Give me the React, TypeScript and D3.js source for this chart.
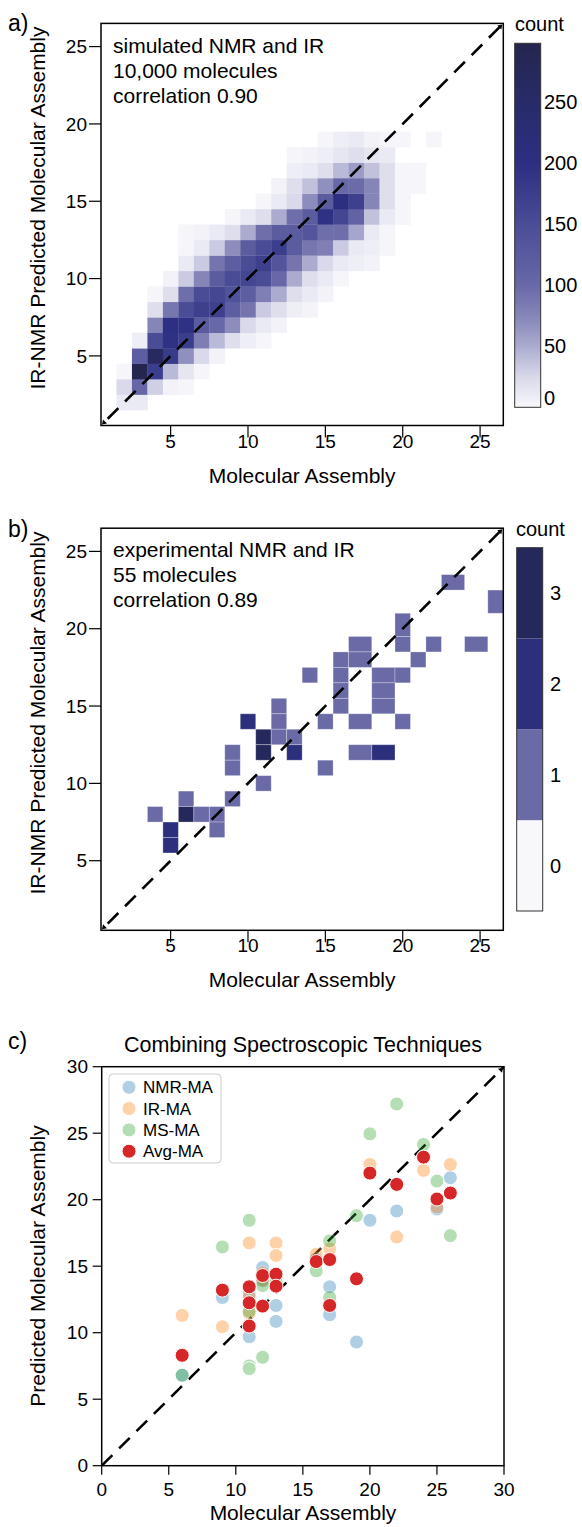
import React from 'react';
import * as d3 from 'd3';

const FONT = '"Liberation Sans", Arial, Helvetica, sans-serif';

// ---------- Panel a: simulated 2D histogram (counts), rows by predicted MA (y), columns x = 1..22 ----------
const heatA_y = [2, 3, 4, 5, 6, 7, 8, 9, 10, 11, 12, 13, 14, 15, 16, 17, 18, 19];
const heatA_xFirst = 1;
const heatA_counts: number[][] = [
  [0, 11, 11, 0, 0, 0, 0, 0, 0, 0, 0, 0, 0, 0, 0, 0, 0, 0, 0, 0, 0, 0],
  [0, 24, 102, 30, 5, 2, 0, 0, 0, 0, 0, 0, 0, 0, 0, 0, 0, 0, 0, 0, 0, 0],
  [0, 2, 298, 175, 42, 14, 2, 0, 0, 0, 0, 0, 0, 0, 0, 0, 0, 0, 0, 0, 0, 0],
  [0, 0, 118, 265, 180, 68, 24, 5, 0, 0, 0, 0, 0, 0, 0, 0, 0, 0, 0, 0, 0, 0],
  [0, 0, 8, 150, 195, 175, 81, 42, 20, 8, 2, 0, 0, 0, 0, 0, 0, 0, 0, 0, 0, 0],
  [0, 0, 0, 75, 200, 195, 122, 100, 70, 24, 11, 5, 0, 0, 0, 0, 0, 0, 0, 0, 0, 0],
  [0, 0, 0, 20, 87, 150, 170, 170, 118, 90, 33, 20, 8, 4, 0, 0, 0, 0, 0, 0, 0, 0],
  [0, 0, 0, 2, 20, 95, 150, 158, 140, 118, 80, 50, 20, 11, 5, 0, 0, 0, 0, 0, 0, 0],
  [0, 0, 0, 0, 5, 33, 75, 122, 150, 160, 150, 100, 50, 20, 11, 2, 0, 0, 0, 0, 0, 0],
  [0, 0, 0, 0, 0, 11, 33, 90, 118, 150, 170, 135, 90, 50, 24, 11, 8, 5, 0, 0, 0, 0],
  [0, 0, 0, 0, 0, 2, 11, 33, 70, 122, 150, 175, 122, 87, 80, 33, 11, 8, 2, 0, 0, 0],
  [0, 0, 0, 0, 0, 2, 5, 11, 20, 50, 95, 122, 122, 135, 95, 95, 53, 11, 2, 0, 0, 0],
  [0, 0, 0, 0, 0, 0, 0, 0, 2, 11, 20, 50, 95, 122, 195, 160, 110, 38, 11, 2, 0, 0],
  [0, 0, 0, 0, 0, 0, 0, 0, 0, 0, 2, 11, 24, 70, 122, 205, 170, 75, 20, 2, 0, 0],
  [0, 0, 0, 0, 0, 0, 0, 0, 0, 0, 0, 5, 20, 38, 68, 100, 97, 75, 20, 2, 2, 0],
  [0, 0, 0, 0, 0, 0, 0, 0, 0, 0, 0, 0, 8, 11, 20, 42, 60, 38, 20, 2, 2, 0],
  [0, 0, 0, 0, 0, 0, 0, 0, 0, 0, 0, 0, 2, 5, 8, 14, 20, 14, 11, 0, 0, 0],
  [0, 0, 0, 0, 0, 0, 0, 0, 0, 0, 0, 0, 0, 0, 2, 8, 11, 5, 2, 2, 0, 2],
];
const heatA_max = 298;
const cbA_ticks = [0, 50, 100, 150, 200, 250];
const cmapA_counts = [0, 25, 50, 75, 100, 150, 200, 250, 298];
const cmapA_colors = ['#f8f8fb', '#d8d8ea', '#ababd0', '#8585b8', '#6868a8', '#4a4c96', '#2c2f82', '#282b68', '#24264f'];
const textA = ['simulated NMR and IR', '10,000 molecules', 'correlation 0.90'];

// ---------- Panel b: experimental 2D histogram ----------
const heatB_x = [4, 5, 5, 6, 6, 7, 8, 8, 9, 9, 9, 10, 11, 11, 11, 12, 12, 12, 13, 13, 14, 15, 15, 16, 16, 16, 16, 17, 17, 17, 17, 19, 20, 19, 19, 19, 20, 20, 20, 21, 22, 23, 25, 26];
const heatB_y = [8, 7, 6, 9, 8, 8, 8, 7, 9, 12, 11, 14, 10, 13, 12, 15, 14, 13, 13, 12, 17, 14, 11, 18, 17, 16, 15, 19, 18, 14, 12, 17, 17, 16, 15, 12, 20, 19, 14, 18, 19, 23, 19, 22];
const heatB_c = [1, 2, 2, 1, 3, 1, 1, 1, 1, 1, 1, 2, 1, 3, 3, 1, 1, 1, 1, 2, 1, 1, 1, 1, 1, 1, 1, 1, 1, 1, 1, 1, 1, 1, 1, 2, 1, 1, 1, 1, 1, 1, 1, 1];
const cbB_levels = [0, 1, 2, 3];
const cbB_colors = ['#f8f8fa', '#6a6aa6', '#2c307c', '#25285a'];
const textB = ['experimental NMR and IR', '55 molecules', 'correlation 0.89'];

// ---------- Panel c: scatter ----------
const nmrX = [6, 9, 11, 11, 11, 12, 12, 13, 13, 16, 17, 17, 19, 20, 22, 24, 25, 26];
const nmrY = [6.8, 12.65, 9.7, 12.9, 12.2, 14.9, 13.9, 12.05, 10.85, 15.5, 13.45, 11.35, 9.3, 18.45, 19.15, 23.25, 19.3, 21.65];
const irX = [6, 9, 11, 11, 11, 12, 12, 13, 13, 16, 17, 17, 19, 20, 22, 24, 25, 26];
const irY = [11.3, 10.45, 16.75, 11.45, 12.7, 14.5, 13.95, 16.75, 15.8, 15.9, 16.3, 12.15, 14.05, 22.65, 17.2, 22.2, 19.45, 22.65];
const msX = [6, 9, 11, 11, 11, 11, 12, 12, 13, 13, 16, 17, 17, 19, 20, 22, 24, 25, 26];
const msY = [6.8, 16.45, 18.45, 7.5, 7.3, 11.6, 13.55, 8.15, 14.4, 13.85, 14.65, 16.9, 12.65, 18.8, 24.95, 27.2, 24.15, 21.4, 17.3];
const avgX = [6, 9, 11, 11, 11, 12, 12, 13, 13, 16, 17, 17, 19, 20, 22, 24, 25, 26];
const avgY = [8.3, 13.2, 13.45, 12.25, 10.5, 14.3, 12.0, 14.4, 13.5, 15.35, 15.5, 12.05, 14.05, 22.0, 21.15, 23.2, 20.05, 20.5];
const seriesNames = ['NMR-MA', 'IR-MA', 'MS-MA', 'Avg-MA'];
const seriesColors = ['#1f77b4', '#ff7f0e', '#2ca02c', '#d62728'];
const seriesAlpha = [0.35, 0.35, 0.35, 1];

const ticksAB = [5, 10, 15, 20, 25];
const ticksC = [0, 5, 10, 15, 20, 25, 30];

const TICK_FS = 19;
const LABEL_FS = 21;

function edgesFrom(vals: number[]): Map<number, [number, number]> {
  const u = Array.from(new Set(vals)).sort((a, b) => a - b);
  const m = new Map<number, [number, number]>();
  u.forEach((v, i) => {
    const lo = i === 0 ? v - 0.5 : (u[i - 1] + v) / 2;
    const hi = i === u.length - 1 ? v + 0.5 : (u[i + 1] + v) / 2;
    m.set(v, [lo, hi]);
  });
  return m;
}

function Arrow({ x, y, dir }: { x: number; y: number; dir: number }) {
  const s = 5;
  const d = dir > 0
    ? `M${x},${y} L${x - s},${y + 1} L${x - 1},${y + s} Z`
    : `M${x},${y} L${x + s},${y - 1} L${x + 1},${y - s} Z`;
  return <path d={d} fill="#000" />;
}

function AxesAB({ x, y, label, yLabelCy, xLabelY, tickLabelY }: any) {
  const [x0, x1] = x.range();
  const [y0, y1] = y.range();
  return (
    <g>
      <rect x={x0} y={y1} width={x1 - x0} height={y0 - y1} fill="none" stroke="#000" strokeWidth={1.5} />
      {ticksAB.map((t) => (
        <g key={'xt' + t}>
          <line x1={x(t)} x2={x(t)} y1={y0} y2={y0 + 12} stroke="#000" strokeWidth={1.2} />
          <text x={x(t)} y={tickLabelY} textAnchor="middle" fontSize={TICK_FS} fontFamily={FONT}>{t}</text>
        </g>
      ))}
      {ticksAB.map((t) => (
        <g key={'yt' + t}>
          <line x1={x0 - 12} x2={x0} y1={y(t)} y2={y(t)} stroke="#000" strokeWidth={1.2} />
          <text x={87} y={y(t)} dy="0.35em" textAnchor="end" fontSize={TICK_FS} fontFamily={FONT}>{t}</text>
        </g>
      ))}
      <text x={(x0 + x1) / 2} y={xLabelY} textAnchor="middle" fontSize={LABEL_FS} fontFamily={FONT}>Molecular Assembly</text>
      <text transform={`translate(45,${yLabelCy}) rotate(-90)`} textAnchor="middle" fontSize={LABEL_FS} fontFamily={FONT}>{label}</text>
    </g>
  );
}

export default function App() {
  const xA = d3.scaleLinear().domain([0.5, 26.5]).range([101, 503.3]);
  const yA = d3.scaleLinear().domain([0.5, 26.5]).range([425.5, 23.4]);
  const xB = d3.scaleLinear().domain([0.5, 26.5]).range([101, 503.3]);
  const yB = d3.scaleLinear().domain([0.5, 26.5]).range([930.3, 528.2]);
  const xC = d3.scaleLinear().domain([0, 30]).range([101.7, 504]);
  const yC = d3.scaleLinear().domain([0, 30]).range([1465.7, 1066.7]);

  const colorA = d3.scaleLinear<string>().domain(cmapA_counts).range(cmapA_colors).interpolate(d3.interpolateRgb).clamp(true);
  const colorB = d3.scaleOrdinal<number, string>().domain(cbB_levels).range(cbB_colors);

  const cellsA: { x: number; y: number; c: number }[] = [];
  heatA_counts.forEach((row, i) => {
    row.forEach((c, j) => {
      if (c > 0) cellsA.push({ x: heatA_xFirst + j, y: heatA_y[i], c });
    });
  });

  const exB = edgesFrom(heatB_x);
  const eyB = edgesFrom(heatB_y);

  const cbAy = d3.scaleLinear().domain([0, heatA_max]).range([407.3, 43.3]);
  const cbBy = d3.scaleLinear().domain([-0.5, 3.5]).range([911, 547.7]);

  const dash = '15 9.5';

  const series = [
    { xs: nmrX, ys: nmrY },
    { xs: irX, ys: irY },
    { xs: msX, ys: msY },
    { xs: avgX, ys: avgY },
  ];

  return (
    <svg width={582} height={1527} style={{ position: 'absolute', left: 0, top: 0, background: '#fff' }} fontFamily={FONT}>
      <defs>
        <linearGradient id="gradA" x1="0" y1="1" x2="0" y2="0">
          {cmapA_counts.map((c, i) => (
            <stop key={i} offset={c / heatA_max} stopColor={cmapA_colors[i]} />
          ))}
        </linearGradient>
        <clipPath id="clipA"><rect x={101} y={23.4} width={402.3} height={402.1} /></clipPath>
        <clipPath id="clipB"><rect x={101} y={528.2} width={402.3} height={402.1} /></clipPath>
        <clipPath id="clipC"><rect x={101.7} y={1066.7} width={402.3} height={399} /></clipPath>
      </defs>
      <rect x={0} y={0} width={582} height={1527} fill="#fff" />

      {/* ---------------- Panel a ---------------- */}
      <text x={8} y={31} fontSize={23} fontFamily={FONT}>a)</text>
      <g clipPath="url(#clipA)">
        {cellsA.map((d, i) => (
          <rect key={i} x={xA(d.x - 0.5)} y={yA(d.y + 0.5)} width={xA(d.x + 0.5) - xA(d.x - 0.5) + 0.3}
            height={yA(d.y - 0.5) - yA(d.y + 0.5) + 0.3} fill={colorA(d.c)} />
        ))}
        <line x1={xA(0.5)} y1={yA(0.5)} x2={xA(26.5)} y2={yA(26.5)} stroke="#000" strokeWidth={2.6}
          strokeDasharray={dash} strokeDashoffset={15} />
      </g>
      <Arrow x={xA(0.5) + 1} y={yA(0.5) - 1} dir={-1} />
      <Arrow x={xA(26.5) - 1} y={yA(26.5) + 1} dir={1} />
      {textA.map((t, i) => (
        <text key={i} x={113} y={53 + i * 24.8} fontSize={LABEL_FS} fontFamily={FONT}>{t}</text>
      ))}
      <AxesAB x={xA} y={yA} label="IR-NMR Predicted Molecular Assembly" yLabelCy={208} xLabelY={483} tickLabelY={448} />
      {/* colorbar a */}
      <text x={515} y={31} fontSize={20} fontFamily={FONT}>count</text>
      <rect x={514.7} y={43.3} width={26} height={364} fill="url(#gradA)" stroke="#333" strokeWidth={1} />
      {cbA_ticks.map((t) => (
        <text key={t} x={544} y={t === 0 ? cbAy(t) - 9 : cbAy(t)} dy="0.35em" fontSize={20} fontFamily={FONT}>{t}</text>
      ))}

      {/* ---------------- Panel b ---------------- */}
      <text x={8} y={537} fontSize={23} fontFamily={FONT}>b)</text>
      <g clipPath="url(#clipB)">
        {heatB_x.map((xv, i) => {
          const [xl, xh] = exB.get(xv)!;
          const [yl, yh] = eyB.get(heatB_y[i])!;
          return (
            <rect key={i} x={xB(xl)} y={yB(yh)} width={xB(xh) - xB(xl)} height={yB(yl) - yB(yh)}
              fill={colorB(heatB_c[i])} stroke="#ffffff" strokeOpacity={0.35} strokeWidth={0.8} />
          );
        })}
        <line x1={xB(0.5)} y1={yB(0.5)} x2={xB(26.5)} y2={yB(26.5)} stroke="#000" strokeWidth={2.6}
          strokeDasharray={dash} strokeDashoffset={15} />
      </g>
      <Arrow x={xB(0.5) + 1} y={yB(0.5) - 1} dir={-1} />
      <Arrow x={xB(26.5) - 1} y={yB(26.5) + 1} dir={1} />
      {textB.map((t, i) => (
        <text key={i} x={113} y={557 + i * 25} fontSize={LABEL_FS} fontFamily={FONT}>{t}</text>
      ))}
      <AxesAB x={xB} y={yB} label="IR-NMR Predicted Molecular Assembly" yLabelCy={713} xLabelY={987} tickLabelY={952} />
      {/* colorbar b */}
      <text x={516} y={536} fontSize={20} fontFamily={FONT}>count</text>
      {cbB_levels.map((l) => (
        <rect key={l} x={516.7} y={cbBy(l + 0.5)} width={26} height={cbBy(l - 0.5) - cbBy(l + 0.5)} fill={colorB(l)} />
      ))}
      <rect x={516.7} y={547.7} width={26} height={363.3} fill="none" stroke="#333" strokeWidth={1} />
      {cbB_levels.map((l) => (
        <text key={l} x={550} y={cbBy(l)} dy="0.35em" fontSize={20} fontFamily={FONT}>{l}</text>
      ))}

      {/* ---------------- Panel c ---------------- */}
      <text x={8} y={1049} fontSize={23} fontFamily={FONT}>c)</text>
      <text x={303} y={1052} textAnchor="middle" fontSize={21.5} fontFamily={FONT}>Combining Spectroscopic Techniques</text>
      <g clipPath="url(#clipC)">
        <line x1={xC(0)} y1={yC(0)} x2={xC(30)} y2={yC(30)} stroke="#000" strokeWidth={2.6} strokeDasharray={dash} />
        {series.map((s, si) => (
          <g key={si} opacity={seriesAlpha[si]}>
            {s.xs.map((xv, i) => (
              <circle key={i} cx={xC(xv)} cy={yC(s.ys[i])} r={7} fill={seriesColors[si]} stroke="#fff" strokeWidth={1} />
            ))}
          </g>
        ))}
      </g>
      <Arrow x={xC(30) - 1} y={yC(30) + 1} dir={1} />
      <rect x={xC(0)} y={yC(30)} width={xC(30) - xC(0)} height={yC(0) - yC(30)} fill="none" stroke="#000" strokeWidth={1.5} />
      {ticksC.map((t) => (
        <g key={'cx' + t}>
          <line x1={xC(t)} x2={xC(t)} y1={yC(0)} y2={yC(0) + 9} stroke="#000" strokeWidth={1.2} />
          <text x={xC(t)} y={1496} textAnchor="middle" fontSize={TICK_FS} fontFamily={FONT}>{t}</text>
        </g>
      ))}
      {ticksC.map((t) => (
        <g key={'cy' + t}>
          <line x1={xC(0) - 9} x2={xC(0)} y1={yC(t)} y2={yC(t)} stroke="#000" strokeWidth={1.2} />
          <text x={88} y={yC(t)} dy="0.35em" textAnchor="end" fontSize={TICK_FS} fontFamily={FONT}>{t}</text>
        </g>
      ))}
      <text transform={`translate(45,1266) rotate(-90)`} textAnchor="middle" fontSize={LABEL_FS} fontFamily={FONT}>Predicted Molecular Assembly</text>
      <text x={303} y={1520} textAnchor="middle" fontSize={LABEL_FS} fontFamily={FONT}>Molecular Assembly</text>
      {/* legend */}
      <rect x={109} y={1074} width={112} height={89} rx={4} fill="#fff" fillOpacity={0.85} stroke="#cccccc" strokeWidth={1} />
      {seriesNames.map((n, i) => (
        <g key={n} opacity={seriesAlpha[i]}>
          <circle cx={129} cy={1087.3 + i * 21.3} r={7} fill={seriesColors[i]} stroke="#fff" strokeWidth={1} />
        </g>
      ))}
      {seriesNames.map((n, i) => (
        <text key={n} x={143} y={1087.3 + i * 21.3} dy="0.35em" fontSize={17} fontFamily={FONT}>{n}</text>
      ))}
    </svg>
  );
}
